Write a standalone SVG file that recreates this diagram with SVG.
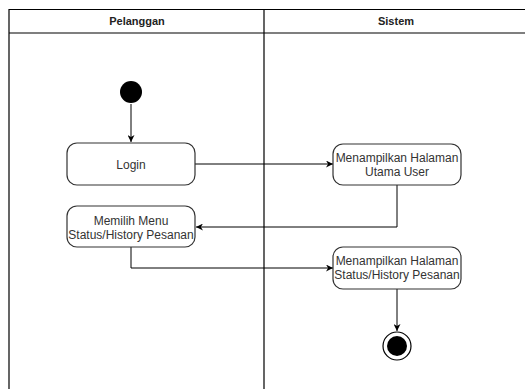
<svg xmlns="http://www.w3.org/2000/svg" width="525" height="389" viewBox="0 0 525 389">
<defs>
<style>
.lane{fill:none;stroke:#000;stroke-width:1.2}
.hdr{font-family:"Liberation Sans",Arial,sans-serif;font-size:11px;font-weight:bold;fill:#222;text-anchor:middle}
.node rect{fill:#fff;stroke:#333;stroke-width:1.2}
.node text{font-family:"Liberation Sans",Arial,sans-serif;font-size:12px;fill:#333;text-anchor:middle}
.edge{fill:none;stroke:#000;stroke-width:1}
</style>
<marker id="arr" viewBox="0 0 10 10" refX="10" refY="5" markerWidth="7" markerHeight="7" orient="auto" markerUnits="userSpaceOnUse">
<path d="M0,0 L10,5 L0,10 L3,5 Z" fill="#000"/>
</marker>
</defs>
<rect width="525" height="389" fill="#fff"/>
<g id="lanes">
<path class="lane" d="M9,389 V9.5 H530 M9,33 H530 M264,9.5 V389"/>
<text class="hdr" x="137" y="25">Pelanggan</text>
<text class="hdr" x="396" y="25">Sistem</text>
</g>
<g id="edges">
<path class="edge" d="M131,104 V142" marker-end="url(#arr)"/>
<path class="edge" d="M195,164 H333" marker-end="url(#arr)"/>
<path class="edge" d="M397,185 V227 H196" marker-end="url(#arr)"/>
<path class="edge" d="M131,247 V268 H333" marker-end="url(#arr)"/>
<path class="edge" d="M397,289 V331" marker-end="url(#arr)"/>
</g>
<g id="start"><circle cx="131" cy="92" r="11" fill="#000"/></g>
<g id="login" class="node"><rect x="67" y="143" width="128" height="42" rx="10"/><text x="131" y="169">Login</text></g>
<g id="utama" class="node"><rect x="333" y="144" width="128" height="41" rx="10"/><text x="397" y="162">Menampilkan Halaman</text><text x="397" y="176">Utama User</text></g>
<g id="memilih" class="node"><rect x="67" y="206" width="128" height="41" rx="10"/><text x="131" y="225">Memilih Menu</text><text x="131" y="239">Status/History Pesanan</text></g>
<g id="status" class="node"><rect x="333" y="247" width="128" height="42" rx="10"/><text x="397" y="265">Menampilkan Halaman</text><text x="397" y="279">Status/History Pesanan</text></g>
<g id="end"><circle cx="397" cy="346" r="14" fill="#fff" stroke="#000" stroke-width="1.2"/><circle cx="397" cy="346" r="10" fill="#000"/></g>
</svg>
